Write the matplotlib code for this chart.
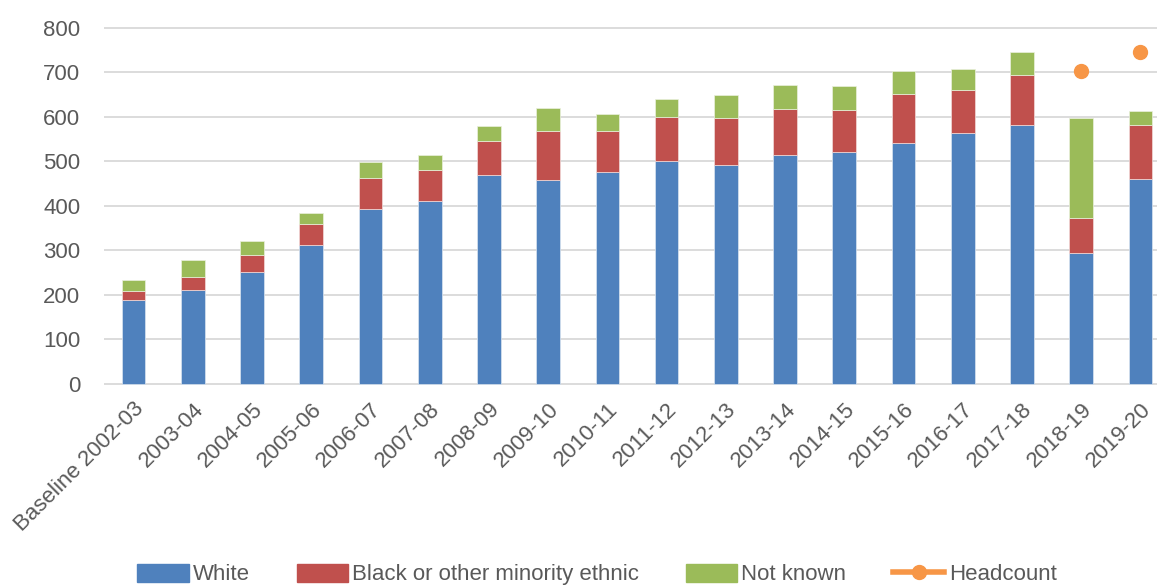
import matplotlib.pyplot as plt
from matplotlib.lines import Line2D
from matplotlib.patches import Patch
import numpy as np

years = ["Baseline 2002-03", "2003-04", "2004-05", "2005-06", "2006-07", "2007-08",
         "2008-09", "2009-10", "2010-11", "2011-12", "2012-13", "2013-14",
         "2014-15", "2015-16", "2016-17", "2017-18", "2018-19", "2019-20"]

white = [187, 210, 252, 312, 392, 410, 468, 457, 476, 500, 491, 513,
         520, 542, 563, 581, 293, 459]
bme = [22, 30, 37, 48, 71, 71, 78, 111, 92, 100, 107, 104,
       96, 110, 98, 113, 79, 123]
not_known = [25, 38, 32, 23, 36, 32, 32, 51, 37, 39, 51, 54,
             53, 51, 46, 52, 225, 30]
headcount = [np.nan]*16 + [702, 746]

BLUE = "#4F81BD"
RED = "#C0504D"
GREEN = "#9BBB59"
ORANGE = "#F79646"
TXT = "#595959"

plt.rcParams['font.family'] = ['Liberation Sans', 'DejaVu Sans']

# 1 unit = 0.445 px; pad the y-range by 2 units so the 0 and 800 grid lines are not clipped
px = 0.445
top = 27.7 - 2*px
bot = 383.7 + 2*px
fig = plt.figure(figsize=(11.57, 5.85), dpi=100)
ax = fig.add_axes([104/1157, 1-bot/585, (1170-104)/1157, (bot-top)/585])

x = np.arange(len(years))
w = 0.4
white_a = np.array(white)
bme_a = np.array(bme)
nk_a = np.array(not_known)

ax.bar(x, white_a, w, color=BLUE, edgecolor="#dbe5f1", linewidth=0.5, zorder=3)
ax.bar(x, bme_a, w, bottom=white_a, color=RED, edgecolor="#f2dcdb", linewidth=0.5, zorder=3)
ax.bar(x, nk_a, w, bottom=white_a+bme_a, color=GREEN, edgecolor="#ebf1de", linewidth=0.5, zorder=3)
ax.plot(x, headcount, linestyle="none", marker="o", markersize=10,
        color=ORANGE, zorder=4)

ax.set_xlim(-0.5, len(years)-0.5)
ax.set_ylim(-2, 802)
ax.set_yticks(range(0, 801, 100))
ax.grid(axis="y", color="#D9D9D9", linewidth=1.3, zorder=0)
for s in ax.spines.values():
    s.set_visible(False)
ax.tick_params(length=0, labelsize=16, colors=TXT)
ax.tick_params(axis="y", pad=17)
ax.set_xticks(x)
ax.set_xticklabels(years, rotation=45, ha="right", rotation_mode="anchor")
ax.tick_params(axis="x", pad=10)

handles = [
    Patch(color=BLUE, label="White"),
    Patch(color=RED, label="Black or other minority ethnic"),
    Patch(color=GREEN, label="Not known"),
    Line2D([], [], color=ORANGE, linewidth=4, marker="o", markersize=10,
           label="Headcount"),
]
leg = fig.legend(handles=handles, loc="center", ncol=4,
                 bbox_to_anchor=(0.516, 0.018), frameon=False, fontsize=16,
                 handlelength=2.3, handleheight=0.9, handletextpad=0.2,
                 columnspacing=2.1)
for t in leg.get_texts():
    t.set_color(TXT)

fig.savefig("out.png", dpi=100)
